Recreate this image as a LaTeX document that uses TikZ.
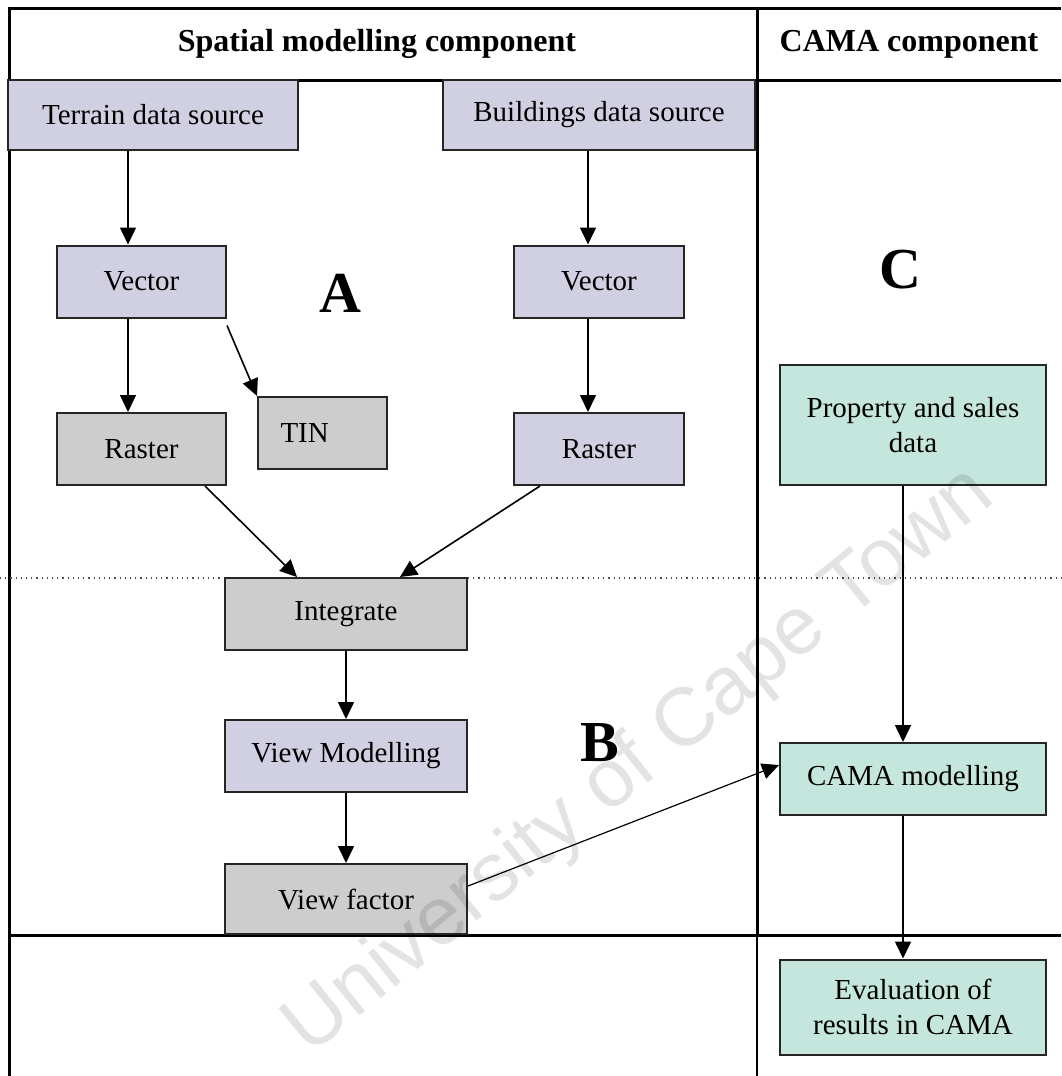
\documentclass[tikz,border=0pt]{standalone}
\usepackage{fontspec}
\setmainfont{Liberation Serif}
\setsansfont{Liberation Sans}
\usetikzlibrary{arrows.meta, positioning}
\definecolor{lilac}{RGB}{208,208,226}
\definecolor{ashgrey}{RGB}{205,205,205}
\definecolor{seafoam}{RGB}{196,230,220}

\begin{document}
\begin{tikzpicture} [x=0.5pt, y=-0.5pt, on grid,
  box/.style = {draw=black!85, line width=1pt, minimum width=84.5pt, minimum height=36pt,
                inner sep=2pt, font=\fontsize{14.5}{17.5}\selectfont},
  lilacbox/.style = {box, fill=lilac},
  greybox/.style = {box, fill=ashgrey},
  camabox/.style = {box, fill=seafoam, minimum width=133pt, align=center},
  arr/.style = {-{Triangle[length=8.5pt, width=8pt]}, line width=0.8pt},
  frame/.style = {line width=1.5pt},
  title/.style = {font=\fontsize{16}{19}\bfseries\selectfont},
  zone/.style = {font=\fontsize{29}{34}\bfseries\selectfont}]

\useasboundingbox (0,0) rectangle (1061,1076);

% table lines
\draw [frame] (8,8) -- (1061,8);
\draw [frame] (8,80) -- (1061,80);
\draw [frame] (9,8) -- (9,1076);
\draw [frame] (757,8) -- (757,935);
\draw [line width=0.8pt] (757,935) -- (757,1076);
\draw [frame] (8,935) -- (1061,935);
\draw [dotted, black!70, line width=0.6pt] (0,578) -- (1061,578);

\node (spatialhead) [title] at (377,44) {Spatial modelling component};
\node (camahead) [title] at (909,44) {CAMA component};

% A
\node (terrain) [lilacbox, minimum width=145pt, minimum height=35pt] at (153,115) {Terrain data source};
\node (buildings) [lilacbox, minimum width=156pt, minimum height=35pt] at (599,115) {Buildings data source};

\node (vecT) [lilacbox] at (141.5,281.5) {Vector};
\node (rasT) [greybox, below = 83.75pt of vecT] {Raster};
\node (tin) [greybox, minimum width=64.5pt, text width=42pt, inner xsep=10pt, align=left] at (322.5,433) {TIN};

\node (vecB) [lilacbox, minimum width=85pt] at (599,281.5) {Vector};
\node (rasB) [lilacbox, minimum width=85pt, below = 83.75pt of vecB] {Raster};

\node (zoneA) [zone] at (340,293) {A};

% B
\node (integ) [greybox, minimum width=121pt] at (346,614) {Integrate};
\node (viewmod) [lilacbox, minimum width=121pt, below = 71pt of integ] {View Modelling};
\node (viewfac) [greybox, minimum width=121pt, minimum height=35pt, below = 71.5pt of viewmod] {View factor};

\node (zoneB) [zone] at (600,743) {B};

% C
\node (propsales) [camabox, minimum height=60pt] at (913,425) {Property and sales\\data};
\node (cama) [camabox] at (913,779) {CAMA modelling};
\node (evalcama) [camabox, minimum height=47.5pt] at (913,1007) {Evaluation of\\results in CAMA};

\node (zoneC) [zone] at (900,270) {C};

\path [arr]
  ([xshift=-12.5pt]terrain.south) edge ([xshift=-6.75pt]vecT.north);
\path [arr]
  ([xshift=-5.5pt]buildings.south) edge ([xshift=-5.5pt]vecB.north);
\path [arr]
  ([xshift=-6.75pt]vecT.south) edge ([xshift=-6.75pt]rasT.north);
\path [arr]
  ([yshift=-3.5pt]vecT.south east) edge (tin.north west);
\path [arr]
  ([xshift=-5.5pt]vecB.south) edge ([xshift=-5.5pt]rasB.north);
\path [arr]
  ([xshift=31.75pt]rasT.south) edge ([xshift=-24.5pt]integ.north);
\path [arr]
  ([xshift=-29.5pt]rasB.south) edge ([xshift=27pt]integ.north);
\path [arr]
  (integ.south) edge (viewmod.north);
\path [arr]
  (viewmod.south) edge (viewfac.north);
\path [arr]
  ([xshift=-5pt]propsales.south) edge ([xshift=-5pt]cama.north);
\path [arr]
  ([xshift=-5pt]cama.south) edge ([xshift=-5pt]evalcama.north);
\path [arr, line width=0.6pt]
  ([yshift=6.5pt]viewfac.east) edge ([yshift=7pt]cama.west);

\node (watermark) [rotate=39, font=\sffamily\fontsize{41}{48}\selectfont, text=black, opacity=0.11]
  at (640,762) {University of Cape Town};

\end{tikzpicture}
\end{document}
